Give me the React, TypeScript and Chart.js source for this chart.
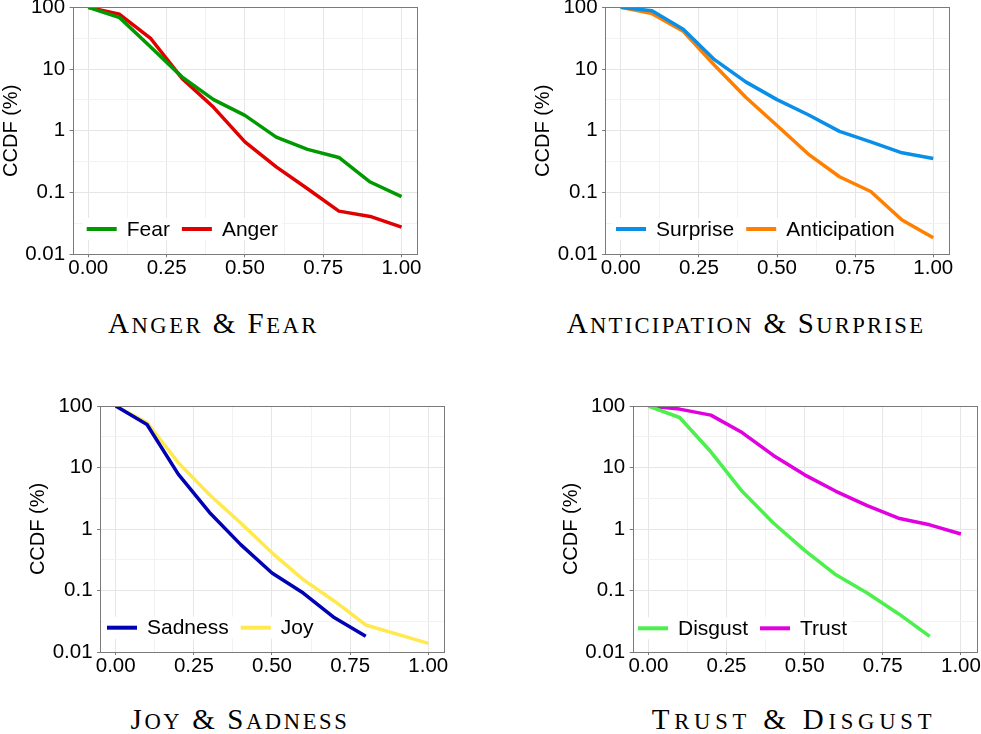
import React, { useEffect, useRef } from "react";
import { Chart, registerables } from "chart.js";

Chart.register(...registerables);

// ---------- data ----------
const X_VALUES = [0, 0.1, 0.2, 0.3, 0.4, 0.5, 0.6, 0.7, 0.8, 0.9, 1.0];

const FEAR = [100, 68, 22.5, 7.4, 3.2, 1.78, 0.79, 0.5, 0.37, 0.148, 0.086];
const ANGER = [100, 77, 31, 7.0, 2.4, 0.66, 0.26, 0.115, 0.05, 0.041, 0.0275];

const SURPRISE = [100, 88, 44, 14.2, 6.2, 3.2, 1.82, 0.98, 0.66, 0.44, 0.357];
const ANTICIPATION = [100, 79, 41, 11.5, 3.5, 1.22, 0.42, 0.18, 0.104, 0.036, 0.0186];

const SADNESS = [100, 50, 7.8, 1.86, 0.557, 0.193, 0.091, 0.036, 0.018];
const JOY = [100, 54, 12, 3.6, 1.25, 0.41, 0.15, 0.067, 0.0275, 0.0195, 0.0138];

const DISGUST = [100, 65, 18, 4.1, 1.25, 0.45, 0.18, 0.091, 0.042, 0.018];
const TRUST = [100, 89, 71, 37, 15.7, 7.6, 4.1, 2.4, 1.5, 1.17, 0.83];

const X_MAJOR_TICKS = [0, 0.25, 0.5, 0.75, 1];
const X_MAJOR_LABELS = ["0.00", "0.25", "0.50", "0.75", "1.00"];
const X_MINOR_TICKS = [0.125, 0.375, 0.625, 0.875];

const Y_MAJOR_TICKS = [0.01, 0.1, 1, 10, 100];
const Y_MAJOR_LABELS = ["0.01", "0.1", "1", "10", "100"];
const Y_MINOR_TICKS = [0.0316228, 0.316228, 3.16228, 31.6228];

const Y_TITLE = "CCDF (%)";

// ---------- styling / layout ----------
const SANS = '"Liberation Sans", Arial, Helvetica, sans-serif';
const SERIF = '"Liberation Serif", "Times New Roman", serif';
const TEXT = "#000000";
const BORDER = "#7a7a7a";
const GRID_MAJOR = "#e6e6e6";
const GRID_MINOR = "#f2f2f2";

type Series = { label: string; values: number[]; color: string };
type PanelCfg = {
  caption: string;
  captionX: number;
  captionTop: number;
  captionSpacing: number;
  area: { l: number; t: number; r: number; b: number };
  titleX: number;
  legend: { dx: number; dy: number };
  series: Series[];
};

const PANELS: PanelCfg[] = [
  {
    caption: "Anger & Fear",
    captionX: 213.5,
    captionTop: 309,
    captionSpacing: 2.5,
    area: { l: 72.6, t: 7.3, r: 417.2, b: 254.3 },
    titleX: 11,
    legend: { dx: 14.1, dy: 25.3 },
    series: [
      { label: "Fear", values: FEAR, color: "#009a00" },
      { label: "Anger", values: ANGER, color: "#e00000" },
    ],
  },
  {
    caption: "Anticipation & Surprise",
    captionX: 746,
    captionTop: 309,
    captionSpacing: 2.3,
    area: { l: 605.1, t: 7.3, r: 948.9, b: 254.3 },
    titleX: 543.3,
    legend: { dx: 10.9, dy: 25.3 },
    series: [
      { label: "Surprise", values: SURPRISE, color: "#0a8fe8" },
      { label: "Anticipation", values: ANTICIPATION, color: "#ff8000" },
    ],
  },
  {
    caption: "Joy & Sadness",
    captionX: 240,
    captionTop: 705,
    captionSpacing: 2.6,
    area: { l: 100.1, t: 406, r: 443.9, b: 652 },
    titleX: 38,
    legend: { dx: 6.9, dy: 24.3 },
    series: [
      { label: "Sadness", values: SADNESS, color: "#0000b4" },
      { label: "Joy", values: JOY, color: "#ffe94d" },
    ],
  },
  {
    caption: "Trust & Disgust",
    captionX: 794,
    captionTop: 705,
    captionSpacing: 4.8,
    area: { l: 632.7, t: 406, r: 976.6, b: 652 },
    titleX: 571,
    legend: { dx: 5.3, dy: 23.7 },
    series: [
      { label: "Disgust", values: DISGUST, color: "#4cf04c" },
      { label: "Trust", values: TRUST, color: "#e000e0" },
    ],
  },
];

const isYMajor = (v: number) => Y_MAJOR_TICKS.some((m) => Math.abs(Math.log10(m) - Math.log10(v)) < 1e-6);
const isXMajor = (v: number) => X_MAJOR_TICKS.some((m) => Math.abs(m - v) < 1e-9);

// ---------- plugins ----------
const innerLegend = {
  id: "innerLegend",
  beforeDatasetsDraw(chart: any, _args: any, opts: any) {
    const { ctx, chartArea } = chart;
    ctx.save();
    ctx.font = `21px ${SANS}`;
    const sample = 30;
    const gapText = 10;
    const gapItem = 12;
    const items = chart.data.datasets.map((ds: any) => ({
      label: ds.label,
      color: ds.borderColor,
      w: ctx.measureText(ds.label).width,
    }));
    let x = chartArea.left + opts.dx;
    const cy = chartArea.bottom - opts.dy;
    const total =
      items.reduce((s: number, it: any) => s + sample + gapText + it.w, 0) + gapItem * (items.length - 1);
    ctx.fillStyle = "#ffffff";
    ctx.fillRect(x - 4, cy - 11, total + 8, 22);
    items.forEach((it: any) => {
      ctx.strokeStyle = it.color;
      ctx.lineWidth = 4;
      ctx.lineCap = "butt";
      ctx.beginPath();
      ctx.moveTo(x, cy);
      ctx.lineTo(x + sample, cy);
      ctx.stroke();
      ctx.fillStyle = TEXT;
      ctx.textBaseline = "middle";
      ctx.textAlign = "left";
      ctx.fillText(it.label, x + sample + gapText, cy + 1);
      x += sample + gapText + it.w + gapItem;
    });
    ctx.restore();
  },
};

const panelBorder = {
  id: "panelBorder",
  afterDatasetsDraw(chart: any) {
    const { ctx, chartArea } = chart;
    const l = Math.round(chartArea.left) + 0.5;
    const r = Math.round(chartArea.right) + 0.5;
    const t = Math.round(chartArea.top) + 0.5;
    const b = Math.round(chartArea.bottom) + 0.5;
    ctx.save();
    ctx.strokeStyle = BORDER;
    ctx.lineWidth = 1;
    ctx.strokeRect(l, t, r - l, b - t);
    ctx.restore();
  },
};

// ---------- components ----------
function Panel({ p }: { p: PanelCfg }) {
  const ref = useRef<HTMLCanvasElement>(null);

  const canvasLeft = Math.round(p.titleX - 10);
  const canvasTop = Math.round(p.area.t - 27);
  const yW = p.area.l - canvasLeft;
  const padTop = p.area.t - canvasTop;
  const W = Math.round(p.area.r + 25 - canvasLeft);
  const padRight = canvasLeft + W - p.area.r;
  const H = Math.round(p.area.b + 36 - canvasTop);
  const xH = canvasTop + H - p.area.b;

  useEffect(() => {
    if (!ref.current) return;
    const chart = new Chart(ref.current, {
      type: "line",
      data: {
        datasets: p.series.map((s) => ({
          label: s.label,
          data: s.values.map((v, i) => ({ x: X_VALUES[i], y: v })),
          borderColor: s.color,
          backgroundColor: s.color,
          borderWidth: 3.5,
          pointRadius: 0,
          tension: 0,
          fill: false,
          borderCapStyle: "butt",
          borderJoinStyle: "round",
        })),
      },
      options: {
        responsive: false,
        maintainAspectRatio: false,
        animation: false,
        devicePixelRatio: 1,
        layout: { padding: { top: padTop, right: padRight, left: 0, bottom: 0 } },
        plugins: {
          legend: { display: false },
          tooltip: { enabled: false },
          title: { display: false },
          innerLegend: { dx: p.legend.dx, dy: p.legend.dy },
        } as any,
        scales: {
          x: {
            type: "linear",
            min: -0.05,
            max: 1.05,
            afterFit: (scale: any) => {
              scale.height = xH;
            },
            afterBuildTicks: (scale: any) => {
              scale.ticks = [...X_MAJOR_TICKS, ...X_MINOR_TICKS]
                .sort((a, b) => a - b)
                .map((v) => ({ value: v }));
            },
            ticks: {
              autoSkip: false,
              maxRotation: 0,
              padding: 1,
              color: TEXT,
              font: { family: SANS, size: 20.5, lineHeight: 1 },
              callback: (value: any) => {
                const i = X_MAJOR_TICKS.findIndex((m) => Math.abs(m - Number(value)) < 1e-9);
                return i >= 0 ? X_MAJOR_LABELS[i] : "";
              },
            },
            grid: {
              drawOnChartArea: true,
              drawTicks: true,
              tickLength: 3,
              lineWidth: 1,
              color: (ctx: any) => (ctx.tick && isXMajor(ctx.tick.value) ? GRID_MAJOR : GRID_MINOR),
              tickColor: (ctx: any) => (ctx.tick && isXMajor(ctx.tick.value) ? BORDER : "rgba(0,0,0,0)"),
            },
            border: { display: false },
          },
          y: {
            type: "logarithmic",
            min: 0.01,
            max: 100,
            afterFit: (scale: any) => {
              scale.width = yW;
            },
            afterBuildTicks: (scale: any) => {
              scale.ticks = [...Y_MAJOR_TICKS, ...Y_MINOR_TICKS]
                .sort((a, b) => a - b)
                .map((v) => ({ value: v }));
            },
            ticks: {
              autoSkip: false,
              padding: 4.5,
              color: TEXT,
              font: { family: SANS, size: 20.5, lineHeight: 1 },
              callback: (value: any) => {
                const i = Y_MAJOR_TICKS.findIndex(
                  (m) => Math.abs(Math.log10(m) - Math.log10(Number(value))) < 1e-6
                );
                return i >= 0 ? Y_MAJOR_LABELS[i] : "";
              },
            },
            grid: {
              drawOnChartArea: true,
              drawTicks: true,
              tickLength: 3,
              lineWidth: 1,
              color: (ctx: any) => (ctx.tick && isYMajor(ctx.tick.value) ? GRID_MAJOR : GRID_MINOR),
              tickColor: (ctx: any) => (ctx.tick && isYMajor(ctx.tick.value) ? BORDER : "rgba(0,0,0,0)"),
            },
            border: { display: false },
            title: {
              display: true,
              text: Y_TITLE,
              color: TEXT,
              padding: 0,
              font: { family: SANS, size: 20, lineHeight: 1 },
            },
          },
        },
      },
      plugins: [innerLegend, panelBorder],
    } as any);
    return () => chart.destroy();
  }, []);

  return (
    <canvas
      ref={ref}
      width={W}
      height={H}
      style={{ position: "absolute", left: canvasLeft, top: canvasTop, width: W, height: H }}
    />
  );
}

function SmallCaps({ text }: { text: string }) {
  const words = text.split(" ");
  return (
    <>
      {words.map((w, i) => (
        <React.Fragment key={i}>
          {i > 0 ? " " : ""}
          <span>{w[0]}</span>
          {w.length > 1 ? (
            <span style={{ fontSize: "0.78em", textTransform: "uppercase" }}>{w.slice(1)}</span>
          ) : null}
        </React.Fragment>
      ))}
    </>
  );
}

export default function App() {
  return (
    <div
      style={{
        position: "absolute",
        left: 0,
        top: 0,
        width: 981,
        height: 734,
        overflow: "hidden",
        background: "#ffffff",
      }}
    >
      {PANELS.map((p, i) => (
        <Panel key={i} p={p} />
      ))}
      {PANELS.map((p, i) => (
        <div
          key={"c" + i}
          style={{
            position: "absolute",
            left: p.captionX - 250,
            top: p.captionTop,
            width: 500,
            textAlign: "center",
            fontFamily: SERIF,
            fontSize: 29,
            lineHeight: "29px",
            letterSpacing: `${p.captionSpacing}px`,
            color: TEXT,
            whiteSpace: "nowrap",
          }}
        >
          <SmallCaps text={p.caption} />
        </div>
      ))}
    </div>
  );
}
